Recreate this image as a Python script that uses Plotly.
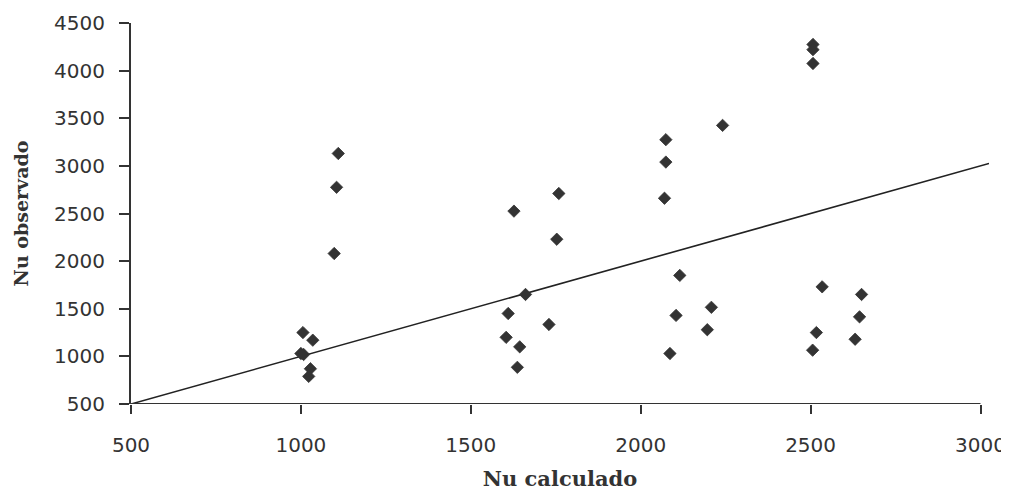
import plotly.graph_objects as go

nu_calculado = [
    1110, 1105, 1098, 1006, 1035, 1000, 1008, 1028, 1023,
    1627, 1759, 1753, 1661, 1610, 1730, 1604, 1644, 1637,
    2241, 2074, 2074, 2070, 2115, 2104, 2208, 2196, 2086,
    2534, 2650, 2644, 2631, 2517, 2506,
    2507, 2507, 2507,
]
nu_observado = [
    3130, 2775, 2080, 1250, 1170, 1030, 1020, 870, 790,
    2525, 2710, 2230, 1650, 1450, 1335, 1200, 1100, 885,
    3425, 3275, 3040, 2660, 1850, 1430, 1515, 1280, 1030,
    1730, 1650, 1415, 1180, 1250, 1065,
    4275, 4220, 4075,
]

# Reference line y = x
linea_x = [500, 3025]
linea_y = [500, 3025]

x_ticks = [500, 1000, 1500, 2000, 2500, 3000]
y_ticks = [500, 1000, 1500, 2000, 2500, 3000, 3500, 4000, 4500]

fig = go.Figure()
fig.add_trace(go.Scatter(
    x=linea_x, y=linea_y, mode="lines",
    line=dict(color="#222222", width=1.6),
    hoverinfo="skip", showlegend=False,
))
fig.add_trace(go.Scatter(
    x=nu_calculado, y=nu_observado, mode="markers",
    marker=dict(symbol="diamond", size=9.5, color="#333333",
                line=dict(width=0.8, color="#333333")),
    showlegend=False, cliponaxis=False,
))

# x-axis baseline drawn only up to the last tick (3000)
fig.add_shape(type="line", xref="x", yref="y",
              x0=x_ticks[0], x1=x_ticks[-1], y0=y_ticks[0], y1=y_ticks[0],
              line=dict(color="#333333", width=2), layer="above")

tick_font = dict(family="DejaVu Sans", size=20, color="#333333")

fig.update_layout(
    width=1001, height=483,
    margin=dict(l=123, r=19.5, t=14.7, b=87.3, autoexpand=False),
    paper_bgcolor="white", plot_bgcolor="white",
    xaxis=dict(
        range=[500, 3025], tickvals=x_ticks, ticktext=[str(v) for v in x_ticks],
        showgrid=False, zeroline=False, showline=False,
        ticks="outside", ticklen=9, tickwidth=2, tickcolor="#333333",
        tickfont=tick_font, ticklabelstandoff=14, ticklabeloverflow="allow",
        title=dict(text="<b>Nu calculado</b>", standoff=17,
                   font=dict(family="DejaVu Serif", size=21, color="#333333")),
    ),
    yaxis=dict(
        range=[500, 4500], tickvals=y_ticks, ticktext=[str(v) for v in y_ticks],
        showgrid=False, zeroline=False, showline=True, linewidth=2, linecolor="#333333",
        ticks="outside", ticklen=10, tickwidth=2, tickcolor="#333333",
        tickfont=tick_font, ticklabelstandoff=10,
        title=dict(text="<b>Nu observado</b>", standoff=20,
                   font=dict(family="DejaVu Serif", size=19, color="#333333")),
    ),
)

fig.write_html("out.html")
